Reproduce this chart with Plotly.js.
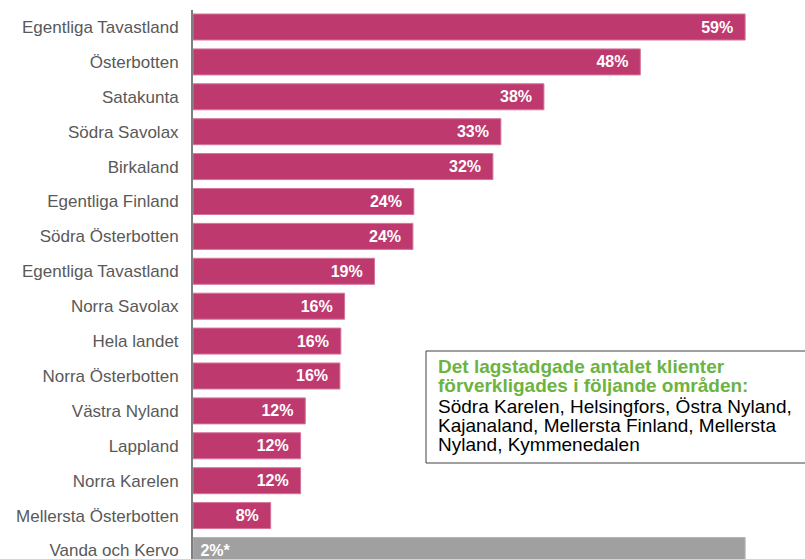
<!DOCTYPE html>
<html><head><meta charset="utf-8">
<script src="https://cdn.plot.ly/plotly-3.0.1.min.js"></script>
<style>html,body{margin:0;padding:0;background:#fff}#chart{width:805px;height:559px}</style>
</head><body><div id="chart"></div>
<script>
const regions = ['Egentliga Tavastland','Österbotten','Satakunta','Södra Savolax','Birkaland','Egentliga Finland','Södra Österbotten','Egentliga Tavastland','Norra Savolax','Hela landet','Norra Österbotten','Västra Nyland','Lappland','Norra Karelen','Mellersta Österbotten'];
const shares = [59, 47.8, 37.5, 32.9, 32.05, 23.6, 23.5, 19.4, 16.2, 15.8, 15.7, 12.0, 11.5, 11.5, 8.3];
const refRegion = 'Vanda och Kervo';
const refLabel = '2%*';
const noteTitle = ['Det lagstadgade antalet klienter', 'förverkligades i följande områden:'];
const noteBody = ['Södra Karelen, Helsingfors, Östra Nyland,', 'Kajanaland, Mellersta Finland, Mellersta', 'Nyland, Kymmenedalen'];

const FONT = 'Liberation Sans, Arial, sans-serif';
const NB = '\u00a0';
const idx = regions.map((_, i) => i);
const allNames = regions.concat([refRegion]);
const allIdx = allNames.map((_, i) => i);

const traces = [
  {
    type: 'bar', orientation: 'h',
    y: idx, x: shares,
    width: 0.745,
    marker: {color: '#be3a6e', line: {color: '#d5739a', width: 1}},
    text: shares.map(v => Math.round(v) + '%' + NB + NB),
    textposition: 'inside', insidetextanchor: 'end',
    textfont: {family: FONT, size: 16, color: '#ffffff', weight: 'bold'},
    hoverinfo: 'skip', cliponaxis: false
  },
  {
    type: 'bar', orientation: 'h',
    y: [regions.length], x: [Math.max(...shares)],
    width: 0.745,
    marker: {color: '#a0a0a0', line: {color: '#b4b4b4', width: 1}},
    text: [NB + refLabel],
    textposition: 'inside', insidetextanchor: 'start',
    textfont: {family: FONT, size: 16, color: '#ffffff', weight: 'bold'},
    hoverinfo: 'skip'
  }
];

const T = 10, H = 559, PH = H - T;
const py = p => (H - p) / PH;
const px = p => (p - 193) / 612;

const annotations = [];
const lines = noteTitle.map(t => ({t, title: true})).concat(noteBody.map(t => ({t, title: false})));
const centers = [366, 385, 406, 425, 444];
lines.forEach((l, i) => {
  annotations.push({
    xref: 'paper', yref: 'paper', x: px(436), y: py(centers[i]),
    xanchor: 'left', yanchor: 'middle', showarrow: false, align: 'left',
    text: l.title ? '<b>' + l.t + '</b>' : l.t,
    font: {family: FONT, size: 19, color: l.title ? '#6db33f' : '#000000'}
  });
});

const layout = {
  width: 805, height: 559,
  margin: {l: 193, r: 0, t: T, b: 0, pad: 0},
  paper_bgcolor: '#ffffff', plot_bgcolor: '#ffffff',
  barmode: 'overlay', showlegend: false,
  xaxis: {range: [0, 65.4], visible: false, fixedrange: true},
  yaxis: {
    range: [15.244, -0.487], tickmode: 'array', tickvals: allIdx, ticktext: allNames,
    showline: true, linecolor: '#7f7f7f', linewidth: 2, showgrid: false, zeroline: false,
    ticks: 'outside', ticklen: 9, tickcolor: 'rgba(0,0,0,0)', ticklabeloverflow: 'allow',
    tickfont: {family: FONT, size: 17, color: '#595959'}, fixedrange: true
  },
  shapes: [{
    type: 'rect', xref: 'paper', yref: 'paper',
    x0: px(426), x1: px(812), y0: py(463), y1: py(351),
    line: {color: '#404040', width: 1}, fillcolor: '#ffffff'
  }],
  annotations
};

Plotly.newPlot('chart', traces, layout, {displayModeBar: false, staticPlot: true});
</script></body></html>
